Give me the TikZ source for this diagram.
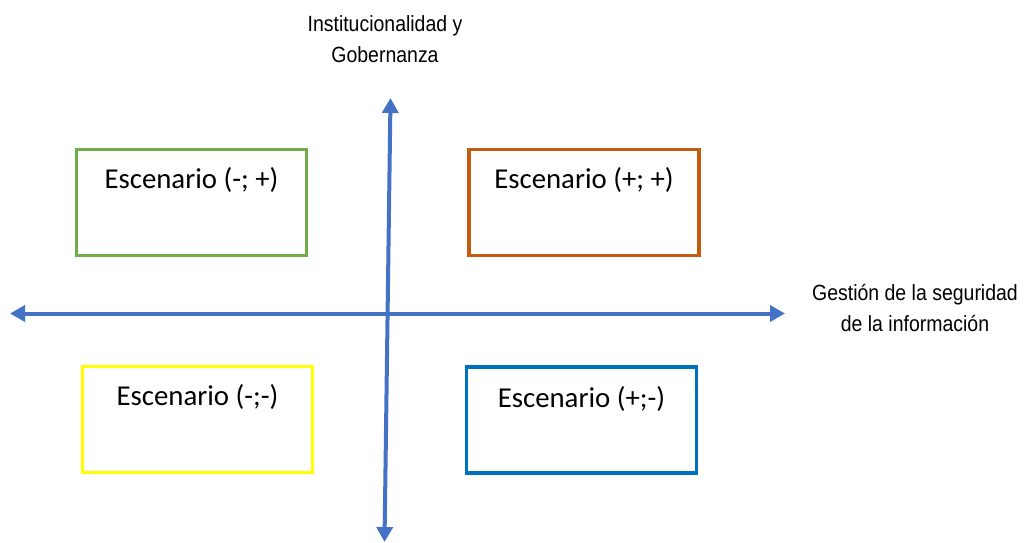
\documentclass[tikz,border=0pt]{standalone}
\usepackage{fontspec}
\setmainfont{Carlito}
\newfontfamily\arialf{Liberation Sans}
\usetikzlibrary{arrows.meta}
\definecolor{axisblue}{HTML}{4472C4}
\definecolor{bxgreen}{HTML}{70AD47}
\definecolor{bxorange}{HTML}{C55A11}
\definecolor{bxyellow}{HTML}{FFFF00}
\definecolor{bxblue}{HTML}{0070C0}
\tikzset{
  axisline/.style={draw=axisblue, line width=4pt, {Triangle[length=15pt,width=16pt]}-{Triangle[length=15pt,width=16pt]}},
  scenbox/.style={rectangle, line width=3.2pt, minimum width=230pt, minimum height=106pt, inner sep=0pt, outer sep=0pt},
  scentext/.style={anchor=base, inner sep=0pt, font=\fontsize{28.8}{32}\selectfont},
  axislabel/.style={anchor=north, align=center, inner sep=0pt, xscale=0.885, font=\arialf\fontsize{22}{31}\selectfont}
}
\begin{document}
\begin{tikzpicture}[x=1pt,y=-1pt]
\useasboundingbox (0,0) rectangle (1026,543);
% axes
\coordinate (L) at (10,313.5);
\coordinate (R) at (785,313.5);
\coordinate (T) at (390.5,98);
\coordinate (B) at (384.5,542);
\draw[axisline] (L) -- (R);
\draw[axisline] (B) -- (T);
% axis labels
\node[axislabel] (ylab) at (385,15.5) {Institucionalidad y\\Gobernanza};
\node[axislabel] (xlab) at (915,284) {Gestión de la seguridad\\de la información};
% scenario boxes
\node[scenbox, draw=bxgreen] (sNW) at (191.5,202.5) {};
\node[scenbox, draw=bxorange] (sNE) at (584,202.5) {};
\node[scenbox, draw=bxyellow] (sSW) at (197.5,419.5) {};
\node[scenbox, draw=bxblue] (sSE) at (581.5,420) {};
\path (sNW.north) ++(0,38.5) node[scentext] (tNW) {Escenario (-; +)};
\path (sNE.north) ++(0,38.5) node[scentext] (tNE) {Escenario (+; +)};
\path (sSW.north) ++(0,38.5) node[scentext] (tSW) {Escenario (-;-)};
\path (sSE.north) ++(0,40.5) node[scentext] (tSE) {Escenario (+;-)};
\end{tikzpicture}
\end{document}
